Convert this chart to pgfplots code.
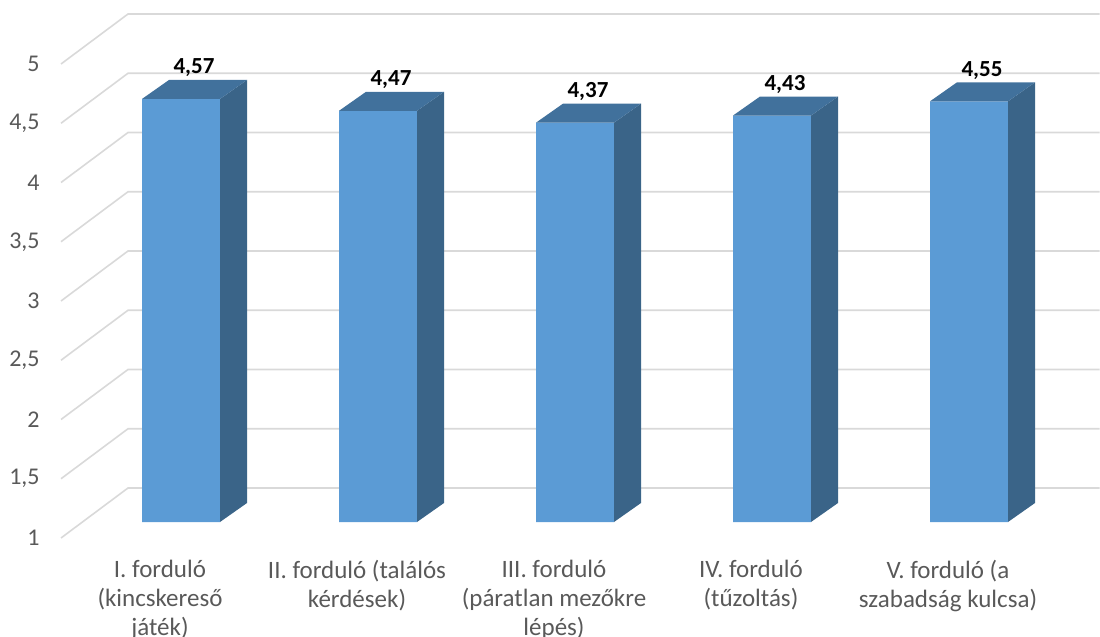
\documentclass[border=0pt]{standalone}
\usepackage{fontspec}
\setmainfont{Carlito}
\usepackage{pgfplots}
\pgfplotsset{compat=1.18}
\usepackage{pgfplotstable}

\definecolor{barfront}{HTML}{5B9BD5}
\definecolor{bartop}{HTML}{41719C}
\definecolor{barside}{HTML}{3A6488}
\definecolor{gridgray}{HTML}{D9D9D9}
\definecolor{labelgray}{HTML}{595959}

% average score per round
\pgfplotstableread{
k v
0 4.57
1 4.47
2 4.37
3 4.43
4 4.55
}\ratings

% side and top faces of a 3D bar, drawn from the front top corner;
% the side height comes from the value (y unit = 59.25pt)
\pgfdeclareplotmark{barfaces}{%
  \pgfmathsetlengthmacro\barlow{8pt-(\val-1)*59.25pt}%
  \pgfmathsetlengthmacro\barlowback{17.5pt-(\val-1)*59.25pt}%
  \pgfsetfillcolor{barside}%
  \pgfpathmoveto{\pgfpoint{30pt}{8pt}}%
  \pgfpathlineto{\pgfpoint{43.5pt}{17.5pt}}%
  \pgfpathlineto{\pgfpoint{43.5pt}{\barlowback}}%
  \pgfpathlineto{\pgfpoint{30pt}{\barlow}}%
  \pgfpathclose
  \pgfusepath{fill}%
  \pgfsetfillcolor{bartop}%
  \pgfpathmoveto{\pgfpoint{-9pt}{8pt}}%
  \pgfpathlineto{\pgfpoint{4.5pt}{17.5pt}}%
  \pgfpathlineto{\pgfpoint{43.5pt}{17.5pt}}%
  \pgfpathlineto{\pgfpoint{30pt}{8pt}}%
  \pgfpathclose
  \pgfusepath{fill}%
}

\begin{document}
\begin{tikzpicture}
\begin{axis}[
  x=98.5pt, y=59.25pt,
  xmin=-0.5025, xmax=4.43, ymin=1, ymax=5,
  clip=false,
  axis line style={draw=none},
  major tick length=0pt,
  tick style={draw=none},
  ytick={1,1.5,...,5},
  xtick={0,...,4},
  xticklabels={
    {I. forduló\\(kincskereső\\játék)},
    {II. forduló (találós\\kérdések)},
    {III. forduló\\(páratlan mezőkre\\lépés)},
    {IV. forduló\\(tűzoltás)},
    {V. forduló (a\\szabadság kulcsa)}},
  ticklabel style={text=labelgray},
  yticklabel style={anchor=east, inner sep=0pt, xshift=-10.5pt,
    font=\fontsize{12}{14}\selectfont},
  xticklabel style={anchor=north, align=center, inner sep=0pt, yshift=-11pt,
    font=\fontsize{12.5}{14.5}\selectfont},
  /pgf/number format/use comma,
  /pgf/number format/assume math mode=true,
]
% back wall gridlines with their receding edge on the left
\pgfplotsinvokeforeach{1,1.5,...,5}{
  \draw[gridgray, line width=0.8pt] (axis cs:-0.5025,#1) -- ++(33.5pt,25pt)
    -- ([shift={(33.5pt,25pt)}]axis cs:4.43,#1);
}
% front faces
\addplot[ybar, bar width=39pt, bar shift=10.5pt, yshift=8pt,
  fill=barfront, draw=none] table[x=k, y=v] {\ratings};
% side and top faces, with value labels
\addplot[only marks, mark=barfaces,
  visualization depends on={\thisrow{v} \as \val},
  point meta=\thisrow{v},
  nodes near coords={\pgfmathprintnumber[fixed, fixed zerofill, precision=2]{\pgfplotspointmeta}},
  every node near coord/.append style={anchor=base, xshift=17pt, yshift=20.5pt,
    inner sep=0pt, text=black, font=\fontsize{11.5}{13}\selectfont\bfseries},
] table[x=k, y=v] {\ratings};
\coordinate (bbtl) at (axis cs:-0.8122,5.5401);
\coordinate (bbbr) at (axis cs:4.7716,0.1646);
\end{axis}
\pgfresetboundingbox
\useasboundingbox (bbtl) rectangle (bbbr);
\end{tikzpicture}
\end{document}
